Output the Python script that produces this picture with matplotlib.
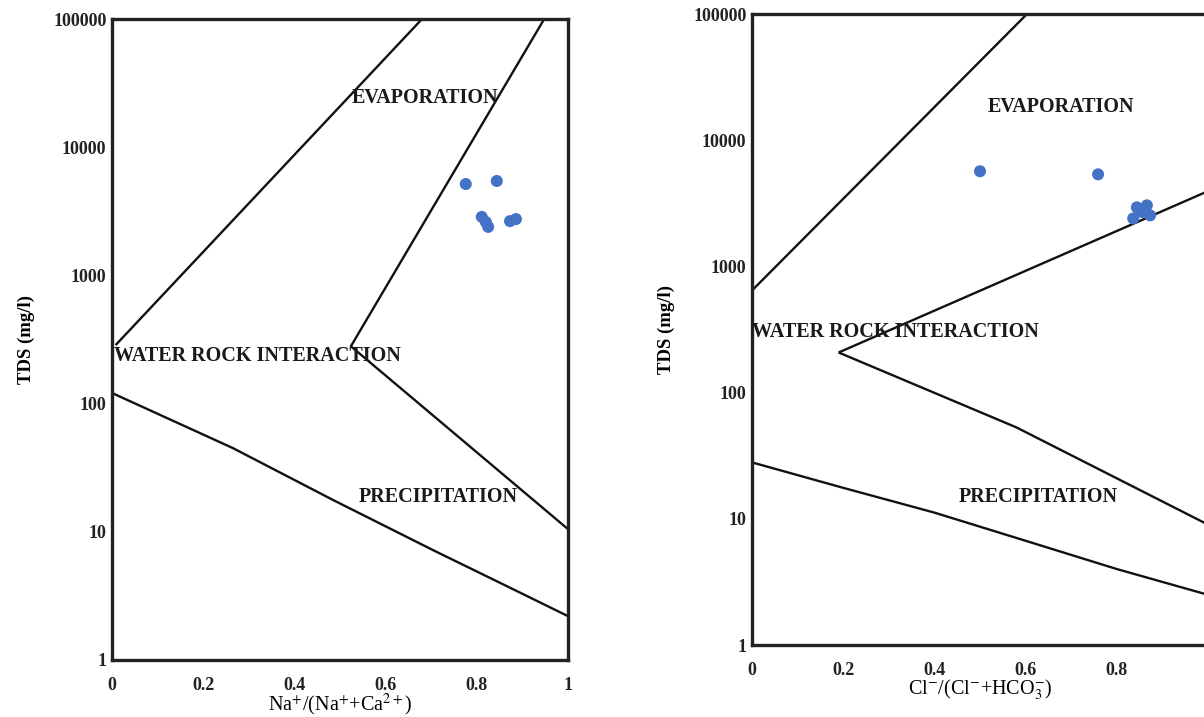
import numpy as np
import matplotlib
matplotlib.use("Agg")
import matplotlib.pyplot as plt

plt.rcParams['font.family'] = ['Liberation Serif', 'DejaVu Serif']
plt.rcParams['mathtext.fontset'] = 'stix'

# ---- data: left panel (Na / (Na + Ca)) ----
na_x = [0.776, 0.844, 0.811, 0.820, 0.825, 0.873, 0.886]
na_tds = [5160, 5450, 2860, 2610, 2390, 2650, 2750]

# boundary lines (x, TDS)
na_evap_left_x = [0.008, 0.68]
na_evap_left_y = [286, 100000]
na_evap_right_x = [0.948, 0.524, 1.0]
na_evap_right_y = [100000, 280, 10.5]
na_prec_x = [0, 0.265, 0.485, 0.704, 0.851, 1.0]
na_prec_y = [121, 45, 17.7, 7.2, 4.0, 2.2]

# ---- data: right panel (Cl / (Cl + HCO3)) ----
cl_x = [0.500, 0.759, 0.844, 0.866, 0.836, 0.855, 0.873]
cl_tds = [5680, 5370, 2940, 3050, 2400, 2700, 2540]

cl_evap_left_x = [0.0, 0.603]
cl_evap_left_y = [645, 100000]
cl_upper_x = [1.0, 0.19]
cl_upper_y = [3950, 208]
cl_lower_x = [0.19, 0.58, 1.0]
cl_lower_y = [208, 53, 9]
cl_prec_x = [0, 0.2, 0.4, 0.6, 0.8, 1.0]
cl_prec_y = [28, 17.6, 11.2, 6.7, 4.0, 2.5]

yticks = [1, 10, 100, 1000, 10000, 100000]
xticks = [0, 0.2, 0.4, 0.6, 0.8, 1.0]
xtick_labels = ['0', '0.2', '0.4', '0.6', '0.8', '1']

dot_color = '#4472C4'
line_kw = dict(color='#111111', lw=1.7, solid_capstyle='butt')
lab_kw = dict(fontsize=14.5, fontweight='bold', color='#1a1a1a')

fig = plt.figure(figsize=(12.04, 7.17), dpi=100)
ax1 = fig.add_axes([0.0930, 0.0795, 0.3787, 0.894])
ax2 = fig.add_axes([0.6246, 0.1004, 0.3787, 0.880])


def style(ax, xlabel):
    ax.set_yscale('log')
    ax.set_xlim(0, 1)
    ax.set_ylim(1, 100000)
    ax.set_yticks(yticks)
    ax.set_yticklabels([str(v) for v in yticks])
    ax.yaxis.set_minor_locator(matplotlib.ticker.NullLocator())
    ax.set_xticks(xticks)
    ax.set_xticklabels(xtick_labels)
    ax.tick_params(length=0, labelsize=13, colors='#222222')
    ax.tick_params(axis='y', pad=4)
    ax.tick_params(axis='x', pad=12)
    for lbl in ax.get_xticklabels() + ax.get_yticklabels():
        lbl.set_fontweight('bold')
    for s in ax.spines.values():
        s.set_linewidth(2.4)
        s.set_color('#222222')
    ax.set_ylabel('TDS (mg/l)', fontsize=13.5, fontweight='bold', labelpad=13)
    ax.set_xlabel(xlabel, fontsize=14.5, labelpad=-1)


# left panel
ax1.plot(na_evap_left_x, na_evap_left_y, **line_kw)
ax1.plot(na_evap_right_x, na_evap_right_y, **line_kw)
ax1.plot(na_prec_x, na_prec_y, **line_kw)
ax1.scatter(na_x, na_tds, s=75, color=dot_color, zorder=3, edgecolors='none')
ax1.text(0.686, 24200, 'EVAPORATION', ha='center', va='center', **lab_kw)
ax1.text(0.005, 235, 'WATER ROCK INTERACTION', ha='left', va='center', **lab_kw)
ax1.text(0.715, 18.7, 'PRECIPITATION', ha='center', va='center', **lab_kw)
style(ax1, r'Na$^{+}$/(Na$^{+}$+Ca$^{2+}$)')

# right panel
ax2.plot(cl_evap_left_x, cl_evap_left_y, **line_kw)
ax2.plot(cl_upper_x, cl_upper_y, **line_kw)
ax2.plot(cl_lower_x, cl_lower_y, **line_kw)
ax2.plot(cl_prec_x, cl_prec_y, **line_kw)
ax2.scatter(cl_x, cl_tds, s=75, color=dot_color, zorder=3, edgecolors='none')
ax2.text(0.678, 18300, 'EVAPORATION', ha='center', va='center', **lab_kw)
ax2.text(0.0, 305, 'WATER ROCK INTERACTION', ha='left', va='center', **lab_kw)
ax2.text(0.627, 15, 'PRECIPITATION', ha='center', va='center', **lab_kw)
style(ax2, r'Cl$^{-}$/(Cl$^{-}$+HCO$_{3}^{-}$)')

fig.savefig('out.png', dpi=100)
